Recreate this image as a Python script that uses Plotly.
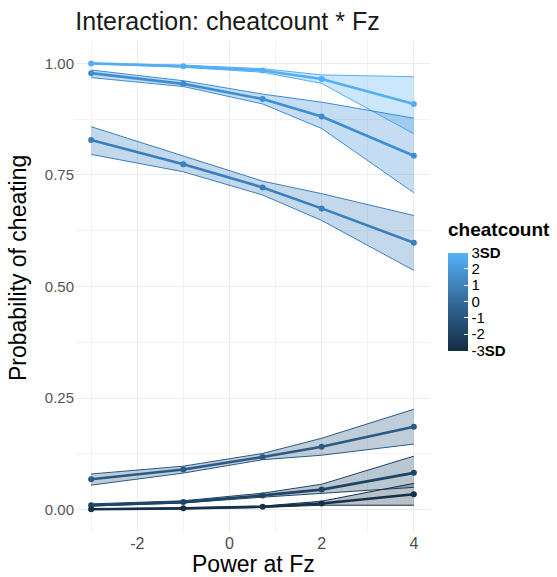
import plotly.graph_objects as go

# ---- data ----
power_fz = [-3, -1, 0.72, 2, 4]
cheat_levels = [3, 2.2, 1.8, 0.2, -1.4, -3]

prob_mean = [
    [0.9998, 0.9935, 0.984, 0.965, 0.909],
    [0.978, 0.954, 0.920, 0.881, 0.793],
    [0.828, 0.774, 0.722, 0.675, 0.598],
    [0.068, 0.090, 0.118, 0.141, 0.186],
    [0.010, 0.017, 0.032, 0.045, 0.0825],
    [0.001, 0.003, 0.0065, 0.014, 0.0346],
]
prob_upper = [
    [1.000, 0.996, 0.988, 0.974, 0.970],
    [0.985, 0.961, 0.931, 0.913, 0.877],
    [0.858, 0.793, 0.736, 0.708, 0.659],
    [0.080, 0.0975, 0.126, 0.160, 0.225],
    [0.013, 0.020, 0.037, 0.057, 0.120],
    [0.002, 0.004, 0.008, 0.019, 0.059],
]
prob_lower = [
    [0.999, 0.991, 0.980, 0.955, 0.842],
    [0.968, 0.948, 0.909, 0.854, 0.710],
    [0.796, 0.757, 0.705, 0.648, 0.536],
    [0.055, 0.082, 0.112, 0.122, 0.147],
    [0.008, 0.015, 0.028, 0.036, 0.050],
    [0.0005, 0.002, 0.005, 0.010, 0.010],
]
line_colors = ["#55AEF4", "#3E8DD3", "#3A7EBE", "#2B5A83", "#1F4464", "#15304B"]

cbar_ticks = [-3, -2, -1, 0, 1, 2, 3]
cbar_labels = ["-3<b>SD</b>", "-2", "-1", "0", "1", "2", "3<b>SD</b>"]
y_ticks = [0, 0.25, 0.5, 0.75, 1.0]
y_labels = ["0.00", "0.25", "0.50", "0.75", "1.00"]
x_ticks = [-2, 0, 2, 4]

W, H = 557, 577
L, R, T, B = 75, 127, 41, 45
PW, PH = W - L - R, H - T - B


def px_x(x):
    return (x - L) / PW


def px_y(y):
    return (H - B - y) / PH


def rgba(hexc, a):
    h = hexc.lstrip("#")
    r, g, b = int(h[0:2], 16), int(h[2:4], 16), int(h[4:6], 16)
    return f"rgba({r},{g},{b},{a})"


fig = go.Figure()

# ribbons
for i in range(len(prob_mean)):
    c = line_colors[i]
    fig.add_trace(go.Scatter(x=power_fz, y=prob_upper[i], mode="lines",
                             line=dict(color=c, width=1), showlegend=False,
                             hoverinfo="skip"))
    fig.add_trace(go.Scatter(x=power_fz, y=prob_lower[i], mode="lines",
                             line=dict(color=c, width=1), fill="tonexty",
                             fillcolor=rgba(c, 0.3), showlegend=False,
                             hoverinfo="skip"))

# mean lines
for i in range(len(prob_mean)):
    c = line_colors[i]
    fig.add_trace(go.Scatter(x=power_fz, y=prob_mean[i], mode="lines+markers",
                             line=dict(color=c, width=2.6),
                             marker=dict(color=c, size=6),
                             showlegend=False))

# colourbar
fig.add_trace(go.Scatter(
    x=[None], y=[None], mode="markers", showlegend=False,
    marker=dict(color=[0], cmin=-3, cmax=3,
                colorscale=[[0, "#132B43"], [0.5, "#336A98"], [1, "#56B1F7"]],
                showscale=True,
                colorbar=dict(
                    thickness=20, thicknessmode="pixels",
                    len=98, lenmode="pixels",
                    x=px_x(448), xanchor="left",
                    y=px_y(301.5), yanchor="middle",
                    outlinewidth=0, xpad=0, ypad=0,
                    tickmode="array", tickvals=cbar_ticks, ticktext=cbar_labels,
                    ticks="inside", tickcolor="white", ticklen=4,
                    tickfont=dict(size=15, color="#000000",
                                  family="Liberation Sans"),
                ))))

fig.update_layout(
    width=W, height=H,
    margin=dict(l=L, r=R, t=T, b=B),
    paper_bgcolor="white", plot_bgcolor="white",
    font=dict(family="Liberation Sans"),
    title=dict(text="Interaction: cheatcount * Fz", x=227.5 / W, xanchor="center",
               y=(H - 21) / H, yanchor="middle",
               font=dict(size=25, color="#1A1A1A")),
    xaxis=dict(range=[-3.35, 4.35], tickmode="array", tickvals=x_ticks,
               ticktext=[str(v) for v in x_ticks],
               showgrid=True, gridcolor="#EBEBEB", gridwidth=1.1,
               zeroline=False, showline=False, ticks="",
               tickfont=dict(size=16, color="#4D4D4D"),
               minor=dict(tickvals=[-3, -1, 1, 3], showgrid=True,
                          gridcolor="#F2F2F2", gridwidth=0.6)),
    yaxis=dict(range=[-0.05, 1.05], tickmode="array", tickvals=y_ticks,
               ticktext=y_labels,
               showgrid=True, gridcolor="#EBEBEB", gridwidth=1.1,
               zeroline=False, showline=False, ticks="",
               tickfont=dict(size=15, color="#555555"),
               minor=dict(tickvals=[0.125, 0.375, 0.625, 0.875], showgrid=True,
                          gridcolor="#F2F2F2", gridwidth=0.6)),
    annotations=[
        dict(text="Power at Fz", xref="paper", yref="paper",
             x=px_x(253), y=px_y(564), xanchor="center", yanchor="middle",
             showarrow=False, font=dict(size=23, color="#000000")),
        dict(text="Probability of cheating", xref="paper", yref="paper",
             x=px_x(18), y=px_y(268), xanchor="center", yanchor="middle",
             textangle=-90, showarrow=False,
             font=dict(size=23, color="#000000")),
        dict(text="<b>cheatcount</b>", xref="paper", yref="paper",
             x=px_x(446), y=px_y(229), xanchor="left", yanchor="middle",
             showarrow=False, font=dict(size=19, color="#000000")),
    ],
)

fig.write_html("out.html")
